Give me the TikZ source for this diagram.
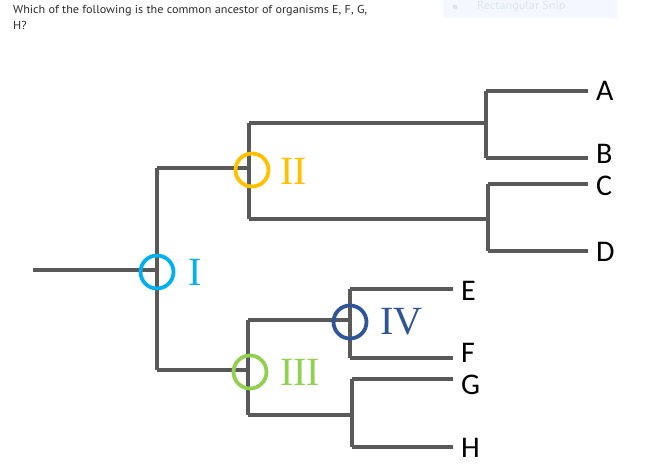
\documentclass[tikz,border=0pt]{standalone}
\usepackage{fontspec}
\setmainfont{Liberation Serif}
\newfontfamily\qfont[FakeStretch=1.06]{PT Sans}
\newfontfamily\leaffont{Carlito}
\definecolor{branch}{HTML}{595959}
\definecolor{cI}{HTML}{00B0F0}
\definecolor{cII}{HTML}{FFC000}
\definecolor{cIII}{HTML}{92D050}
\definecolor{cIV}{HTML}{2F5597}
\definecolor{qtext}{HTML}{2B2B2B}
\definecolor{snipbg}{HTML}{F4F8FE}
\definecolor{sniptext}{HTML}{DCE4EF}
\begin{document}
\begin{tikzpicture}[x=1pt,y=-1pt,
  tree/.style={draw=branch,line width=4.5pt},
  anc/.style={circle,draw=#1,line width=3.8pt,minimum size=33pt,inner sep=0pt},
  roman/.style={anchor=west,font=\fontsize{40}{40}\selectfont,text=#1,inner sep=0pt},
  leaf/.style={anchor=west,font=\leaffont\fontsize{30}{30}\selectfont,inner sep=0pt}]
\useasboundingbox (0,0) rectangle (663,471);
% question
\node[anchor=north west,inner sep=0pt,text=qtext,font=\qfont\fontsize{11.5}{16}\selectfont,align=left] (q) at (13,5) {Which of the following is the common ancestor of organisms E, F, G,\\H?};
% snip ghost
\node[fill=snipbg,minimum width=174pt,minimum height=18pt,anchor=north west,inner sep=0pt] (snip) at (443,0) {};
\node[circle,fill=sniptext,minimum size=5pt,inner sep=0pt] (snipdot) at (455,7) {};
\node[anchor=west,inner sep=0pt,text=sniptext,font=\qfont\fontsize{11.5}{12}\selectfont] (sniplbl) at (477,7) {Rectangular Snip};
% coordinates
\coordinate (root) at (33,270);
\coordinate (nI) at (157,270);
\coordinate (Itop) at (157,168);
\coordinate (Ibot) at (157,370);
\coordinate (nII) at (249,168);
\coordinate (IIt) at (249,123);
\coordinate (IIb) at (249,219);
\coordinate (ABn) at (486,123);
\coordinate (ABt) at (486,91);
\coordinate (ABb) at (486,158);
\coordinate (CDn) at (488,219);
\coordinate (CDt) at (488,184);
\coordinate (CDb) at (488,251);
\coordinate (nIII) at (248,370);
\coordinate (IIIt) at (248,320);
\coordinate (IIIb) at (248,415);
\coordinate (nIV) at (350,320);
\coordinate (IVt) at (350,289);
\coordinate (IVb) at (350,358);
\coordinate (GHn) at (352,415);
\coordinate (GHt) at (352,379);
\coordinate (GHb) at (352,447);
% leaf labels
\node[leaf] (A) at (596,91) {A};
\node[leaf] (B) at (596,154) {B};
\node[leaf] (C) at (596,186) {C};
\node[leaf] (D) at (596,252) {D};
\node[leaf] (E) at (461,291) {E};
\node[leaf] (F) at (461,353) {F};
\node[leaf] (G) at (461,385) {G};
\node[leaf] (H) at (461,448) {H};
% branches
\draw[tree] (root) -- (nI);
\draw[tree] (Itop) -- (Ibot);
\draw[tree] (Itop) -- (nII);
\draw[tree] (IIt) -- (IIb);
\draw[tree] (IIt) -- (ABn);
\draw[tree] (IIb) -- (CDn);
\draw[tree] (ABt) -- (ABb);
\draw[tree] (CDt) -- (CDb);
\draw[tree] (ABt) -- ([xshift=-8pt]A.west |- ABt);
\draw[tree] (ABb) -- ([xshift=-8pt]A.west |- ABb);
\draw[tree] (CDt) -- ([xshift=-8pt]A.west |- CDt);
\draw[tree] (CDb) -- ([xshift=-8pt]A.west |- CDb);
\draw[tree] (Ibot) -- (nIII);
\draw[tree] (IIIt) -- (IIIb);
\draw[tree] (IIIt) -- (nIV);
\draw[tree] (IIIb) -- (GHn);
\draw[tree] (IVt) -- (IVb);
\draw[tree] (GHt) -- (GHb);
\draw[tree] (IVt) -- ([xshift=-8pt]E.west |- IVt);
\draw[tree] (IVb) -- ([xshift=-8pt]E.west |- IVb);
\draw[tree] (GHt) -- ([xshift=-8pt]E.west |- GHt);
\draw[tree] (GHb) -- ([xshift=-8pt]E.west |- GHb);
% ancestor circles
\node[anc=cI] (cirI) at (157,272) {};
\node[anc=cII] (cirII) at (252,170) {};
\node[anc=cIII] (cirIII) at (250,372) {};
\node[anc=cIV] (cirIV) at (350,322) {};
\node[roman=cI] (lI) at (188,272) {I};
\node[roman=cII] (lII) at (280,171) {II};
\node[roman=cIII] (lIII) at (280,372) {III};
\node[roman=cIV] (lIV) at (380,322) {IV};
\end{tikzpicture}
\end{document}
